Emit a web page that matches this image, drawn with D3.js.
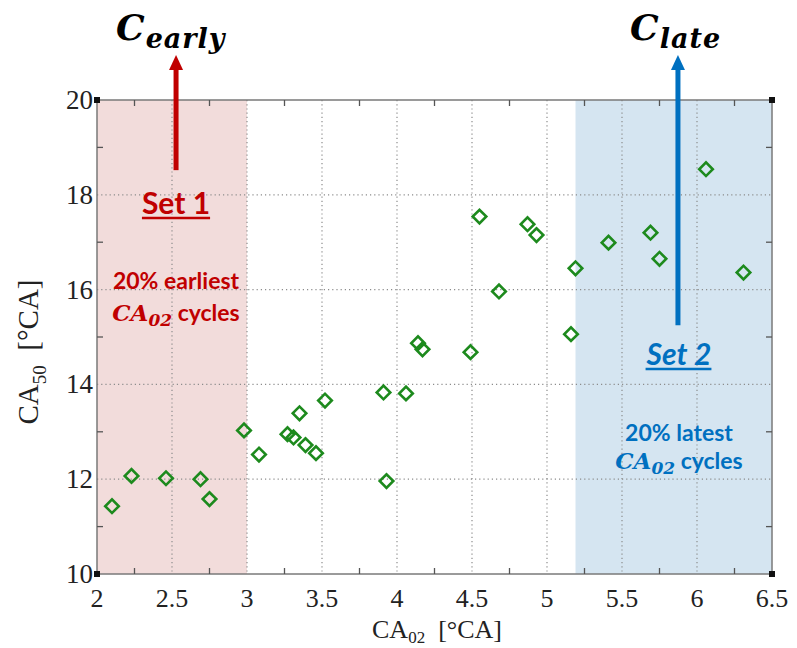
<!DOCTYPE html>
<html>
<head>
<meta charset="utf-8">
<script src="https://cdn.jsdelivr.net/npm/d3@7"></script>
<style>
  body { margin: 0; background: #fff; }
</style>
</head>
<body>
<div id="chart"></div>
<script>
// CA02 vs CA50 scatter
const ca02 = [2.10, 2.23, 2.46, 2.69, 2.75, 2.98, 3.08, 3.27, 3.31, 3.35, 3.39, 3.46, 3.52,
              3.91, 3.93, 4.06, 4.14, 4.17, 4.49, 4.55, 4.68, 4.87, 4.93, 5.16, 5.19,
              5.41, 5.69, 5.75, 6.06, 6.31];
const ca50 = [11.43, 12.07, 12.02, 12.00, 11.58, 13.03, 12.52, 12.95, 12.88, 13.39, 12.72, 12.55, 13.66,
              13.83, 11.96, 13.81, 14.87, 14.74, 14.68, 17.54, 15.96, 17.38, 17.15, 15.06, 16.45,
              16.99, 17.20, 16.65, 18.54, 16.36];

const xTicks = [2, 2.5, 3, 3.5, 4, 4.5, 5, 5.5, 6, 6.5];
const yTicks = [10, 12, 14, 16, 18, 20];
const xMinor = [2.25, 2.75, 3.25, 3.75, 4.25, 4.75, 5.25, 5.75, 6.25];
const yMinor = [11, 13, 15, 17, 19];

const set1Range = [2, 3];
const set2Range = [5.19, 6.5];

const W = 797, H = 648;
const margin = { left: 97, right: 25, top: 100, bottom: 74 };

const svg = d3.select("#chart").append("svg")
    .attr("width", W)
    .attr("height", H);

const x = d3.scaleLinear().domain([2, 6.5]).range([margin.left, W - margin.right]);
const y = d3.scaleLinear().domain([10, 20]).range([H - margin.bottom, margin.top]);

// shaded sets
svg.append("rect")
    .attr("x", x(set1Range[0])).attr("width", x(set1Range[1]) - x(set1Range[0]))
    .attr("y", y(20)).attr("height", y(10) - y(20))
    .attr("fill", "#f2dcdb");
svg.append("rect")
    .attr("x", x(set2Range[0])).attr("width", x(set2Range[1]) - x(set2Range[0]))
    .attr("y", y(20)).attr("height", y(10) - y(20))
    .attr("fill", "#d5e5f1");

// dotted grid
const grid = svg.append("g")
    .attr("stroke", "#8c8c8c")
    .attr("stroke-width", 1.2)
    .attr("stroke-dasharray", "1.2,3");
grid.selectAll(".gx").data(xTicks.slice(1, -1)).join("line")
    .attr("x1", d => x(d)).attr("x2", d => x(d))
    .attr("y1", y(20)).attr("y2", y(10));
grid.selectAll(".gy").data(yTicks.slice(1, -1)).join("line")
    .attr("x1", x(2)).attr("x2", x(6.5))
    .attr("y1", d => y(d)).attr("y2", d => y(d));

// frame
svg.append("rect")
    .attr("x", x(2)).attr("y", y(20))
    .attr("width", x(6.5) - x(2)).attr("height", y(10) - y(20))
    .attr("fill", "none").attr("stroke", "#7a7a7a").attr("stroke-width", 1.5);

// minor ticks, inward on all four sides
const tk = svg.append("g").attr("stroke", "#555").attr("stroke-width", 1.3);
xMinor.forEach(v => {
    tk.append("line").attr("x1", x(v)).attr("x2", x(v)).attr("y1", y(10)).attr("y2", y(10) - 6);
    tk.append("line").attr("x1", x(v)).attr("x2", x(v)).attr("y1", y(20)).attr("y2", y(20) + 6);
});
yMinor.forEach(v => {
    tk.append("line").attr("x1", x(2)).attr("x2", x(2) + 6).attr("y1", y(v)).attr("y2", y(v));
    tk.append("line").attr("x1", x(6.5)).attr("x2", x(6.5) - 6).attr("y1", y(v)).attr("y2", y(v));
});

// little black corner squares
[[2, 20], [6.5, 20], [2, 10], [6.5, 10]].forEach(c => {
    svg.append("rect")
        .attr("x", x(c[0]) - 3).attr("y", y(c[1]) - 3)
        .attr("width", 6).attr("height", 6).attr("fill", "#111");
});

// tick labels
const tickFont = "'Liberation Serif', 'Times New Roman', serif";
svg.append("g").selectAll("text").data(xTicks).join("text")
    .attr("x", d => x(d)).attr("y", 607)
    .attr("text-anchor", "middle")
    .attr("font-family", tickFont).attr("font-size", 26).attr("fill", "#222")
    .text(d => d);
svg.append("g").selectAll("text").data(yTicks).join("text")
    .attr("x", x(2) - 4).attr("y", d => y(d) + 9)
    .attr("text-anchor", "end")
    .attr("font-family", tickFont).attr("font-size", 27).attr("fill", "#222")
    .text(d => d);

// axis titles
const xt = svg.append("text")
    .attr("x", 437).attr("y", 638)
    .attr("text-anchor", "middle")
    .attr("font-family", tickFont).attr("font-size", 26).attr("fill", "#222");
xt.append("tspan").text("CA");
xt.append("tspan").attr("font-size", 17).attr("dy", 5).text("02");
xt.append("tspan").attr("dy", -5).text("\u00a0 [\u00b0CA]");

const yt = svg.append("text")
    .attr("transform", "translate(38,352) rotate(-90)")
    .attr("text-anchor", "middle")
    .attr("font-family", tickFont).attr("font-size", 29).attr("fill", "#222");
yt.append("tspan").text("CA");
yt.append("tspan").attr("font-size", 19).attr("dy", 8).text("50");
yt.append("tspan").attr("dy", -8).text("\u00a0 [\u00b0CA]");

// data points as hollow diamonds
svg.append("g").selectAll("path").data(ca02).join("path")
    .attr("d", d3.symbol(d3.symbolSquare, 92)())
    .attr("transform", (d, i) => `translate(${x(d)},${y(ca50[i])}) rotate(45)`)
    .attr("fill", "none")
    .attr("stroke", "#1d8a1d")
    .attr("stroke-width", 2.6);

// annotations: arrows
const red = "#c00000", blue = "#0070c0";
function arrow(xv, yFrom, color) {
    const tipY = 55;
    svg.append("line")
        .attr("x1", x(xv)).attr("x2", x(xv))
        .attr("y1", y(yFrom)).attr("y2", tipY + 12)
        .attr("stroke", color).attr("stroke-width", 5);
    svg.append("path")
        .attr("d", `M${x(xv)},${tipY} L${x(xv) - 7},${tipY + 15} L${x(xv) + 7},${tipY + 15} Z`)
        .attr("fill", color);
}
arrow(2.527, 18.52, red);
arrow(5.873, 15.25, blue);

// C_early / C_late
const mathFont = "'DejaVu Serif', 'Liberation Serif', serif";
function cLabel(cx, sub) {
    const t = svg.append("text")
        .attr("x", cx).attr("y", 40)
        .attr("font-family", mathFont).attr("font-weight", "bold").attr("font-style", "italic")
        .attr("font-size", 36).attr("fill", "#000");
    t.append("tspan").text("C");
    t.append("tspan").attr("dy", 8).attr("font-size", 27).attr("dx", 1).attr("letter-spacing", 1).text(sub);
}
cLabel(116, "early");
cLabel(630, "late");

// set annotations
const bodyFont = "Lato, 'Open Sans', sans-serif";
function setText(cx, ys, color, title, pct, italicTitle) {
    const t = svg.append("text")
        .attr("x", cx).attr("y", ys[0])
        .attr("text-anchor", "middle")
        .attr("font-family", bodyFont).attr("font-weight", "bold")
        .attr("font-style", italicTitle ? "italic" : "normal")
        .attr("font-size", 30).attr("fill", color)
        .text(title);
    const bb = t.node().getBBox();
    svg.append("line")
        .attr("x1", bb.x).attr("x2", bb.x + bb.width)
        .attr("y1", ys[0] + 4).attr("y2", ys[0] + 4)
        .attr("stroke", color).attr("stroke-width", 2.4);
    svg.append("text")
        .attr("x", cx).attr("y", ys[1])
        .attr("text-anchor", "middle")
        .attr("font-family", bodyFont).attr("font-weight", "bold")
        .attr("font-size", 23).attr("fill", color)
        .text(pct);
    const c = svg.append("text")
        .attr("x", cx).attr("y", ys[2])
        .attr("text-anchor", "middle")
        .attr("font-family", bodyFont).attr("font-weight", "bold")
        .attr("font-size", 23).attr("fill", color);
    c.append("tspan").attr("font-family", mathFont).attr("font-style", "italic").attr("font-size", 23).text("CA");
    c.append("tspan").attr("font-family", mathFont).attr("font-style", "italic").attr("font-size", 17).attr("dy", 5).text("02");
    c.append("tspan").attr("dy", -5).text(" cycles");
}
setText(176, [214, 289, 321], red, "Set 1", "20% earliest", false);
setText(679, [365, 441, 469], blue, "Set 2", "20% latest", true);
</script>
</body>
</html>
